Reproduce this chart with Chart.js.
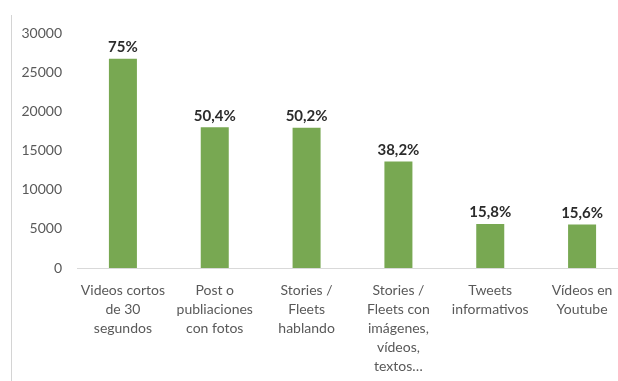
<!DOCTYPE html>
<html>
<head>
<meta charset="utf-8">
<script src="https://cdn.jsdelivr.net/npm/chart.js@4/dist/chart.umd.min.js"></script>
<style>
  html, body { margin: 0; padding: 0; background: #fff; overflow: hidden; }
  body { width: 618px; height: 381px; position: relative; }
  #frame { position: absolute; left: 11px; top: 15px; height: 366px; border-left: 1px solid #d4d4d4; }
  #wrap { position: absolute; left: 0; top: 0; width: 640px; height: 381px; }
</style>
</head>
<body>
<div id="frame"></div>
<div id="wrap"><canvas id="myChart" width="640" height="381"></canvas></div>
<script>
var categories = [
  ['Videos cortos', 'de 30', 'segundos'],
  ['Post o', 'publiaciones', 'con fotos'],
  ['Stories /', 'Fleets', 'hablando'],
  ['Stories /', 'Fleets con', 'imágenes,', 'vídeos,', 'textos…'],
  ['Tweets', 'informativos'],
  ['Vídeos en', 'Youtube']
];
var counts = [26720, 17960, 17890, 13610, 5630, 5560];
var percentLabels = ['75%', '50,4%', '50,2%', '38,2%', '15,8%', '15,6%'];

// writes the percentage over each bar
var barLabels = {
  id: 'barLabels',
  afterDatasetsDraw: function(chart) {
    var ctx = chart.ctx;
    var meta = chart.getDatasetMeta(0);
    ctx.save();
    ctx.font = 'bold 15px Lato';
    ctx.fillStyle = '#2b2b2b';
    ctx.textAlign = 'center';
    ctx.textBaseline = 'bottom';
    meta.data.forEach(function(bar, i) {
      ctx.fillText(percentLabels[i], bar.x, bar.y - 4);
    });
    ctx.restore();
  }
};

var ctx = document.getElementById('myChart').getContext('2d');
var myChart = new Chart(ctx, {
  type: 'bar',
  data: {
    labels: categories,
    datasets: [{
      data: counts,
      backgroundColor: '#78a852',
      categoryPercentage: 1,
      barPercentage: 0.305
    }]
  },
  options: {
    responsive: false,
    animation: false,
    layout: { padding: { top: 33, right: 12, left: 0, bottom: 0 } },
    plugins: {
      legend: { display: false },
      tooltip: { enabled: false }
    },
    scales: {
      y: {
        min: 0,
        max: 30000,
        grid: { display: false },
        border: { display: false },
        ticks: {
          stepSize: 5000,
          padding: 7,
          color: '#595959',
          font: { family: 'Lato', size: 14 },
          callback: function(v) { return String(v); }
        },
        afterFit: function(scale) { scale.width = 77; }
      },
      x: {
        grid: { display: false },
        border: { display: true, color: '#d9d9d9', width: 1 },
        ticks: {
          maxRotation: 0,
          autoSkip: false,
          padding: 5,
          color: '#595959',
          font: { family: 'Lato', size: 14, lineHeight: 1.36 }
        },
        afterFit: function(scale) { scale.height = 113; }
      }
    }
  },
  plugins: [barLabels]
});
</script>
</body>
</html>
